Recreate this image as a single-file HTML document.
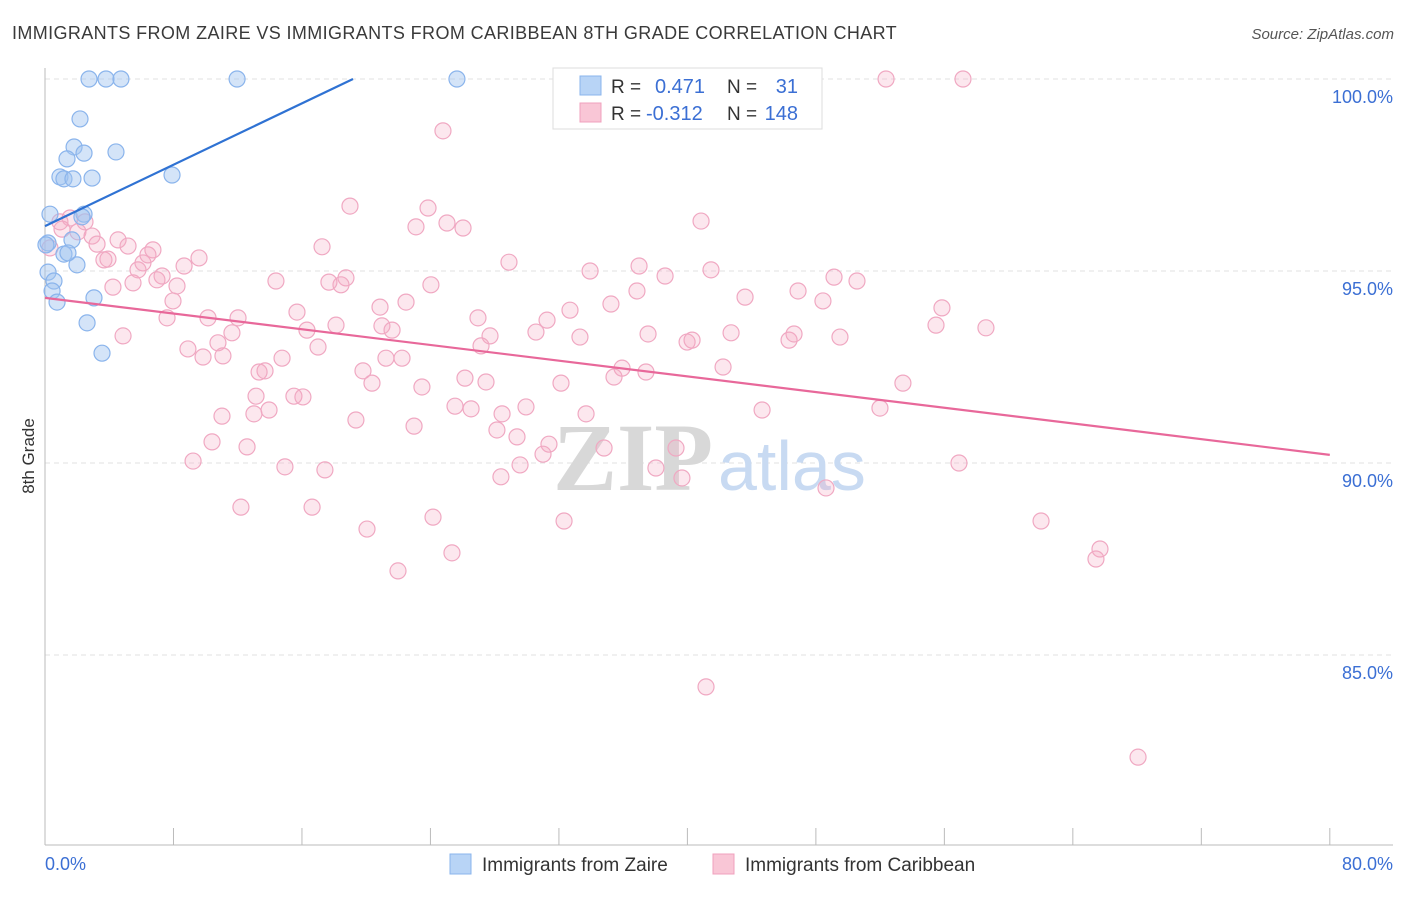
<!DOCTYPE html>
<html><head><meta charset="utf-8"><style>
body{margin:0;background:#fff;font-family:"Liberation Sans",sans-serif;}
svg text{font-family:"Liberation Sans",sans-serif;}
</style></head><body>
<svg id="chart" width="1406" height="892" xmlns="http://www.w3.org/2000/svg">
<text x="12" y="39" font-size="18" fill="#3a3a3a" letter-spacing="0.38">IMMIGRANTS FROM ZAIRE VS IMMIGRANTS FROM CARIBBEAN 8TH GRADE CORRELATION CHART</text>
<text x="1394" y="39" font-size="15" fill="#555" text-anchor="end" font-style="italic">Source: ZipAtlas.com</text>
<g id="grid"></g>
<text x="553" y="490" font-size="96" font-family="Liberation Serif" fill="#d8d8d8" font-weight="bold" style="font-family:'Liberation Serif',serif">ZIP</text>
<text x="718" y="490" font-size="70" fill="#c8daf2">atlas</text>
<g id="marks"></g>
<text transform="translate(34,456) rotate(-90)" font-size="17" fill="#333" text-anchor="middle">8th Grade</text>
<g>
<rect x="553" y="68" width="269" height="61" fill="#fff" stroke="#ddd"/>
<rect x="580" y="76" width="21" height="19" fill="#b8d4f6" stroke="#8ab4ec"/>
<rect x="580" y="103" width="21" height="19" fill="#f9c6d6" stroke="#f0a0bd"/>
<text x="611" y="93" font-size="19" fill="#333">R =</text><text x="655" y="93" font-size="20" fill="#3b6fd4">0.471</text>
<text x="727" y="93" font-size="19" fill="#333">N =</text><text x="798" y="93" font-size="20" fill="#3b6fd4" text-anchor="end">31</text>
<text x="611" y="120" font-size="19" fill="#333">R =</text><text x="646" y="120" font-size="20" fill="#3b6fd4">-0.312</text>
<text x="727" y="120" font-size="19" fill="#333">N =</text><text x="798" y="120" font-size="20" fill="#3b6fd4" text-anchor="end">148</text>
</g>
<g>
<rect x="450" y="854" width="21" height="20" fill="#b8d4f6" stroke="#8ab4ec"/>
<text x="482" y="871" font-size="19" fill="#333">Immigrants from Zaire</text>
<rect x="713" y="854" width="21" height="20" fill="#f9c6d6" stroke="#f0a0bd"/>
<text x="745" y="871" font-size="19" fill="#333">Immigrants from Caribbean</text>
</g>
</svg>
<script>
const yTicks=[100,95,90,85];
const yTickLabels=["100.0%","95.0%","90.0%","85.0%"];
const xTickVals=[0,8,16,24,32,40,48,56,64,72,80];
const xEndLabels=["0.0%","80.0%"];
const zaireX=[2.74,3.80,4.73,11.96,25.65,2.18,1.81,2.43,4.42,1.37,0.93,1.18,2.93,1.74,7.91,0.31,2.43,0.19,1.68,1.18,1.99,0.19,0.56,0.44,3.05,0.75,2.62,3.55,1.43,2.30,0.06];
const zaireY=[100,100,100,100,100,98.96,98.23,98.07,98.10,97.92,97.45,97.40,97.42,97.40,97.50,96.48,96.48,95.73,95.81,95.44,95.16,94.97,94.74,94.48,94.30,94.19,93.65,92.86,95.47,96.41,95.68];
const caribX=[52.37,57.16,24.78,18.99,23.85,40.85,23.10,25.03,26.03,2.49,0.93,1.56,2.05,2.93,4.55,5.17,6.72,3.24,0.31,1.06,3.67,3.92,5.79,6.10,6.41,7.29,8.66,9.59,6.97,5.48,4.23,8.22,7.97,7.60,4.86,10.15,12.02,11.64,8.90,10.77,9.84,11.08,14.38,17.25,18.74,18.43,17.68,15.69,16.31,18.12,17.00,13.70,13.33,14.76,11.02,10.40,12.58,9.22,12.20,13.14,13.95,13.01,15.50,16.06,19.36,14.94,17.43,16.63,20.05,21.98,24.16,25.34,20.86,20.98,21.61,22.48,21.23,22.23,19.80,20.36,23.47,22.98,24.03,26.96,27.71,27.15,26.15,27.46,25.53,26.53,28.46,29.95,28.14,29.39,31.38,31.01,29.58,28.39,28.89,31.26,30.57,32.69,33.31,33.94,35.24,36.86,36.99,38.61,32.13,33.69,32.32,34.81,35.43,35.93,37.42,37.55,39.29,38.04,39.66,41.47,39.98,40.29,42.72,43.59,42.22,44.65,46.33,46.89,46.64,49.13,48.44,49.50,50.56,48.63,51.99,53.42,55.48,55.85,58.59,56.91,62.02,65.69,65.44,68.06,41.16];
const caribY=[100,100,98.65,96.69,96.64,96.30,96.15,96.25,96.12,96.28,96.28,96.38,96.02,95.91,95.81,95.65,95.55,95.70,95.60,96.09,95.29,95.31,95.03,95.21,95.42,94.87,95.13,95.34,94.77,94.69,94.58,94.61,94.22,93.78,93.31,93.78,93.78,93.39,92.97,93.13,92.76,92.79,94.74,95.63,94.82,94.64,94.71,93.93,93.46,93.59,93.02,92.40,92.37,92.73,91.22,90.55,90.42,90.05,88.85,91.74,91.38,91.28,91.74,91.72,91.12,89.90,89.82,88.85,88.28,87.19,88.59,87.66,94.06,93.57,93.46,94.19,92.73,92.73,92.40,92.08,91.98,90.96,94.64,93.78,93.31,93.05,92.21,92.11,91.48,91.41,91.28,91.46,90.86,90.68,90.49,90.23,89.95,89.64,95.23,93.72,93.41,93.98,93.28,95.00,94.14,94.48,95.13,94.87,92.08,91.28,88.49,90.39,92.24,92.47,92.37,93.36,90.39,89.87,89.61,95.03,93.15,93.20,93.39,94.32,92.50,91.38,93.20,94.48,93.36,94.84,94.22,93.28,94.74,89.35,91.43,92.08,93.59,94.04,93.52,90.00,88.49,87.76,87.50,82.34,84.17];
const zaireTrend=[96.17,0.1997];
const caribTrend=[94.30,-0.0511];
const NS="http://www.w3.org/2000/svg";
function xs(v){return 45+v*16.06;}
function ys(v){return 79+(100-v)*38.4;}
function mk(tag,attrs,parent){const e=document.createElementNS(NS,tag);for(const k in attrs)e.setAttribute(k,attrs[k]);parent.appendChild(e);return e;}
const grid=document.getElementById('grid'),marks=document.getElementById('marks');
yTicks.forEach((t,i)=>{
 const l=mk('line',{x1:45,x2:1393,y1:ys(t),y2:ys(t),stroke:'#e2e2e2','stroke-dasharray':'5,4'},grid);
 
 
 const tx=mk('text',{x:1393,y:ys(t)+24,'font-size':18,fill:'#3b6fd4','text-anchor':'end'},grid);
 tx.textContent=yTickLabels[i];
 
 
});
const ya=mk('line',{x1:45,x2:45,y1:68,y2:845,stroke:'#bbb'},grid);


const xa=mk('line',{x1:45,x2:1393,y1:845,y2:845,stroke:'#bbb'},grid);


xTickVals.forEach(t=>{
 const l=mk('line',{x1:xs(t),x2:xs(t),y1:828,y2:845,stroke:'#bbb'},grid);
 
 
});
[[0,'start'],[80,'end']].forEach((p,i)=>{
 const tx=mk('text',{x:i?1393:45,y:870,'font-size':18,fill:'#3b6fd4','text-anchor':p[1]},grid);
 tx.textContent=xEndLabels[i];
 
 
});
caribX.forEach((x,i)=>{
 const c=mk('circle',{cx:xs(x),cy:ys(caribY[i]),r:8,fill:'rgba(244,170,195,0.28)',stroke:'#f0a8c2','stroke-width':1.2},marks);
 
 
});
zaireX.forEach((x,i)=>{
 const c=mk('circle',{cx:xs(x),cy:ys(zaireY[i]),r:8,fill:'rgba(160,196,240,0.45)',stroke:'#8ab4ec','stroke-width':1.2},marks);
 
 
});
const zx2=(100-zaireTrend[0])/zaireTrend[1];
const tl1=mk('line',{x1:xs(0),y1:ys(zaireTrend[0]),x2:xs(zx2),y2:ys(zaireTrend[0]+zaireTrend[1]*zx2),stroke:'#2f72d3','stroke-width':2.2},marks);


const tl2=mk('line',{x1:xs(0),y1:ys(caribTrend[0]),x2:xs(80),y2:ys(caribTrend[0]+caribTrend[1]*80),stroke:'#e8689a','stroke-width':2.2},marks);


</script>
</body></html>
